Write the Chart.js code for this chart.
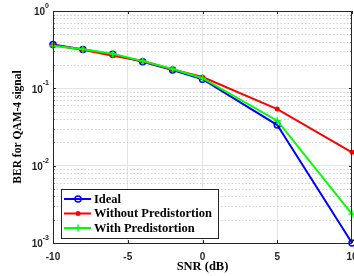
<!DOCTYPE html>
<html>
<head>
<meta charset="utf-8">
<script src="https://cdn.jsdelivr.net/npm/chart.js@4/dist/chart.umd.min.js"></script>
<style>
  html, body { margin: 0; padding: 0; background: #fff; }
  #wrap { width: 354px; height: 276px; }
</style>
</head>
<body>
<div id="wrap"><canvas id="berChart"></canvas></div>
<script>
const snr = [-10, -8, -6, -4, -2, 0, 5, 10];
const berIdeal = [0.369, 0.318, 0.275, 0.221, 0.173, 0.131, 0.0335, 0.001];
const berNoPd = [0.360, 0.315, 0.264, 0.225, 0.175, 0.140, 0.054, 0.0149];
const berPd = [0.356, 0.320, 0.280, 0.225, 0.178, 0.135, 0.0381, 0.00237];
const xTicks = [-10, -5, 0, 5, 10];
const yDecades = [-3, -2, -1, 0];
const legendLabels = ['Ideal', 'Without Predistortion', 'With Predistortion'];

const AXIS = '#262626';
const SERIF = '"Liberation Serif", "Times New Roman", serif';
const SANS = '"Liberation Sans", Arial, sans-serif';

function pts(ys) {
  return snr.map((x, i) => ({ x: x, y: ys[i] }));
}

// legend marker glyphs
function drawMarker(ctx, style, x, y, color) {
  ctx.save();
  ctx.strokeStyle = color;
  ctx.fillStyle = color;
  ctx.lineWidth = 1.5;
  if (style === 'circle') {
    ctx.beginPath();
    ctx.arc(x, y, 3, 0, Math.PI * 2);
    ctx.stroke();
  } else if (style === 'dot') {
    ctx.beginPath();
    ctx.arc(x, y, 2.5, 0, Math.PI * 2);
    ctx.fill();
  } else {
    ctx.beginPath();
    ctx.moveTo(x - 3.5, y); ctx.lineTo(x + 3.5, y);
    ctx.moveTo(x, y - 3.5); ctx.lineTo(x, y + 3.5);
    ctx.stroke();
  }
  ctx.restore();
}

const matlabAxes = {
  id: 'matlabAxes',
  beforeDatasetsDraw(chart) {
    const ctx = chart.ctx;
    const a = chart.chartArea;
    const ys = chart.scales.y;
    ctx.save();
    // dotted minor grid
    ctx.strokeStyle = '#d0d0d0';
    ctx.lineWidth = 1;
    ctx.setLineDash([1.5, 2]);
    for (let d = -3; d < 0; d++) {
      for (let m = 2; m <= 9; m++) {
        const py = Math.round(ys.getPixelForValue(m * Math.pow(10, d))) + 0.5;
        ctx.beginPath();
        ctx.moveTo(a.left, py);
        ctx.lineTo(a.right, py);
        ctx.stroke();
      }
    }
    ctx.restore();
  },
  afterDraw(chart) {
    const ctx = chart.ctx;
    const a = chart.chartArea;
    const xs = chart.scales.x;
    const ys = chart.scales.y;
    ctx.save();
    // box
    ctx.strokeStyle = AXIS;
    ctx.lineWidth = 1;
    ctx.strokeRect(a.left + 0.5, a.top + 0.5, a.right - a.left - 1, a.bottom - a.top);
    // inward ticks
    ctx.beginPath();
    xTicks.forEach(v => {
      const px = Math.round(xs.getPixelForValue(v)) + 0.5;
      ctx.moveTo(px, a.bottom); ctx.lineTo(px, a.bottom - 3);
      ctx.moveTo(px, a.top); ctx.lineTo(px, a.top + 3);
    });
    for (let d = -3; d <= 0; d++) {
      for (let m = 1; m <= 9; m++) {
        if (d === 0 && m > 1) break;
        const len = m === 1 ? 3 : 1.5;
        const py = Math.round(ys.getPixelForValue(m * Math.pow(10, d))) + 0.5;
        ctx.moveTo(a.left, py); ctx.lineTo(a.left + len, py);
        ctx.moveTo(a.right, py); ctx.lineTo(a.right - len, py);
      }
    }
    ctx.stroke();

    // tick labels
    ctx.fillStyle = AXIS;
    ctx.font = 'bold 10px ' + SANS;
    ctx.textAlign = 'center';
    ctx.textBaseline = 'middle';
    xTicks.forEach(v => {
      ctx.fillText(String(v), xs.getPixelForValue(v), a.bottom + 14);
    });
    yDecades.forEach(d => {
      const py = ys.getPixelForValue(Math.pow(10, d));
      ctx.font = 'bold 7px ' + SANS;
      const ew = ctx.measureText(String(d)).width;
      ctx.textAlign = 'left';
      ctx.fillText(String(d), a.left - 4 - ew, py - 5);
      ctx.font = 'bold 10px ' + SANS;
      ctx.textAlign = 'right';
      ctx.fillText('10', a.left - 4 - ew, py + 1.5);
    });

    // axis titles
    ctx.font = 'bold 12.5px ' + SERIF;
    ctx.textAlign = 'center';
    ctx.textBaseline = 'middle';
    ctx.fillStyle = '#000';
    ctx.fillText('SNR (dB)', (a.left + a.right) / 2, 267);
    ctx.save();
    ctx.translate(18, (a.top + a.bottom) / 2);
    ctx.rotate(-Math.PI / 2);
    ctx.font = 'bold 11.5px ' + SERIF;
    ctx.fillText('BER for QAM-4 signal', 0, 0);
    ctx.restore();

    // legend
    const lx = 61.5, ly = 189.5, lw = 157, lh = 49;
    ctx.fillStyle = '#fff';
    ctx.fillRect(lx, ly, lw, lh);
    ctx.strokeStyle = AXIS;
    ctx.lineWidth = 1;
    ctx.strokeRect(lx, ly, lw, lh);
    const ds = chart.data.datasets;
    const rows = [199, 213.5, 228];
    ds.forEach((s, i) => {
      const y = rows[i];
      ctx.strokeStyle = s.borderColor;
      ctx.lineWidth = 2;
      ctx.beginPath();
      ctx.moveTo(64, y); ctx.lineTo(91, y);
      ctx.stroke();
      drawMarker(ctx, s.markerStyle, 78, y, s.borderColor);
      ctx.fillStyle = '#000';
      ctx.font = 'bold 12.5px ' + SERIF;
      ctx.textAlign = 'left';
      ctx.fillText(legendLabels[i], 94, y + 0.5);
    });
    ctx.restore();
  }
};

new Chart(document.getElementById('berChart'), {
  type: 'line',
  data: {
    datasets: [
      {
        label: legendLabels[0], data: pts(berIdeal), markerStyle: 'circle',
        borderColor: '#0000ff', borderWidth: 2, pointStyle: 'circle', pointRadius: 3,
        pointBorderWidth: 1.5, pointBackgroundColor: 'rgba(0,0,0,0)', pointBorderColor: '#0000ff',
        order: 3
      },
      {
        label: legendLabels[1], data: pts(berNoPd), markerStyle: 'dot',
        borderColor: '#ff0000', borderWidth: 2, pointStyle: 'circle', pointRadius: 2.5,
        pointBorderWidth: 0, pointBackgroundColor: '#ff0000',
        order: 2
      },
      {
        label: legendLabels[2], data: pts(berPd), markerStyle: 'cross',
        borderColor: '#00ff00', borderWidth: 2, pointStyle: 'cross', pointRadius: 3.5,
        pointBorderWidth: 1.5, pointBorderColor: '#00ff00',
        order: 1
      }
    ]
  },
  options: {
    responsive: true,
    maintainAspectRatio: false,
    animation: false,
    clip: false,
    layout: { autoPadding: false, padding: { top: 11, right: 2, left: 0, bottom: 0 } },
    plugins: { legend: { display: false }, tooltip: { enabled: false } },
    scales: {
      x: {
        type: 'linear', min: -10, max: 10,
        ticks: { display: false, stepSize: 5 },
        grid: {
          drawTicks: false,
          color: ctx => (ctx.tick && Math.abs(ctx.tick.value) < 10 ? '#e3e3e3' : 'rgba(0,0,0,0)')
        },
        border: { display: false },
        afterFit: s => { s.height = 33; }
      },
      y: {
        type: 'logarithmic', min: 0.001, max: 1,
        ticks: { display: false },
        grid: {
          drawTicks: false,
          color: ctx => {
            if (!ctx.tick) return 'rgba(0,0,0,0)';
            const e = Math.log10(ctx.tick.value);
            return Math.abs(e - Math.round(e)) < 1e-6 ? '#e3e3e3' : 'rgba(0,0,0,0)';
          }
        },
        border: { display: false },
        afterFit: s => { s.width = 53; }
      }
    }
  },
  plugins: [matlabAxes]
});
</script>
</body>
</html>
